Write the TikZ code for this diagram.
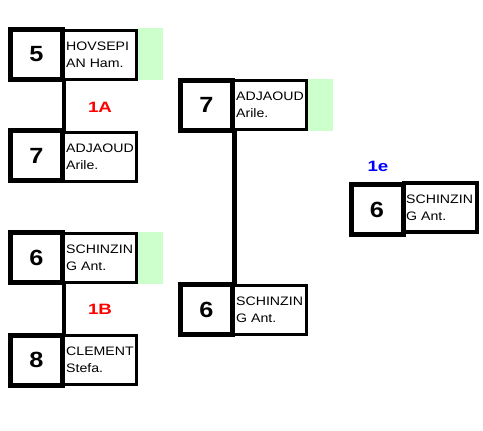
\documentclass[tikz,border=0pt]{standalone}
\usepackage{fontspec}
\newfontfamily\nf[FakeStretch=1.15]{Liberation Sans}
\newfontfamily\lf[FakeStretch=1.25]{Liberation Sans}
\begin{document}
\begin{tikzpicture}[x=1pt,y=-1pt,
  numbox/.style={draw=black,line width=5pt,fill=white,minimum width=52pt,minimum height=50pt,inner sep=0pt,
    font=\nf\fontsize{22}{22}\selectfont\bfseries},
  namebox/.style={draw=black,line width=3pt,fill=white,minimum width=73pt,minimum height=49pt,inner sep=0pt},
  greenbox/.style={fill=green!20,draw=none,minimum width=25pt,minimum height=52pt,inner sep=0pt},
  nametext/.style={anchor=west,inner sep=0pt,align=left,font=\nf\fontsize{12.3}{17}\selectfont},
  conn/.style={draw=black,line width=4.5pt},
  rlabel/.style={text=red,font=\lf\fontsize{15}{15}\selectfont\bfseries},
  blabel/.style={text=blue,font=\lf\fontsize{15}{15}\selectfont\bfseries}]
\useasboundingbox (0,0) rectangle (483,431);
% green markers
\node[greenbox] (g1) at (150.5,54) {};
\node[greenbox] (g3) at (150.5,257.5) {};
\node[greenbox] (g5) at (320.5,105) {};
% connectors
\draw[conn] (64,54.5) coordinate (c1a) -- (64,155.5) coordinate (c1b);
\draw[conn] (64,257.5) coordinate (c3a) -- (64,360) coordinate (c3b);
\draw[conn] (234.5,105) coordinate (c5a) -- (234.5,309.5) coordinate (c6a);
\fill[black] (8,360) rectangle (13,388);
% round 1
\node[namebox] (n1) at (100,54.5) {};
\node[numbox] (b1) at (36.5,54.5) {5};
\node[nametext] (t1) at (66,54.5) {HOVSEPI\\AN Ham.};
\node[namebox] (n2) at (100,156.5) {};
\node[numbox] (b2) at (36.5,155.5) {7};
\node[nametext] (t2) at (66,156.5) {ADJAOUD\\Arile.};
\node[namebox] (n3) at (100,257.5) {};
\node[numbox] (b3) at (36.5,257.5) {6};
\node[nametext] (t3) at (66,257.5) {SCHINZIN\\G Ant.};
\node[namebox] (n4) at (100,359.5) {};
\node[numbox] (b4) at (36.5,360) {8};
\node[nametext] (t4) at (66,359.5) {CLEMENT\\Stefa.};
% round 2
\node[namebox] (n5) at (270,105) {};
\node[numbox] (b5) at (206.5,105) {7};
\node[nametext] (t5) at (236,105) {ADJAOUD\\Arile.};
\node[namebox] (n6) at (270,309.5) {};
\node[numbox] (b6) at (206.5,309.5) {6};
\node[nametext] (t6) at (236,309.5) {SCHINZIN\\G Ant.};
% final
\node[namebox,line width=4pt] (n7) at (440.5,207.5) {};
\node[numbox] (b7) at (377,209.5) {6};
\node[nametext] (t7) at (406,207.5) {SCHINZIN\\G Ant.};
% labels
\node[rlabel] (l1) at (100,107) {1A};
\node[rlabel] (l2) at (100,309) {1B};
\node[blabel] (l3) at (378,166) {1e};
\end{tikzpicture}
\end{document}
